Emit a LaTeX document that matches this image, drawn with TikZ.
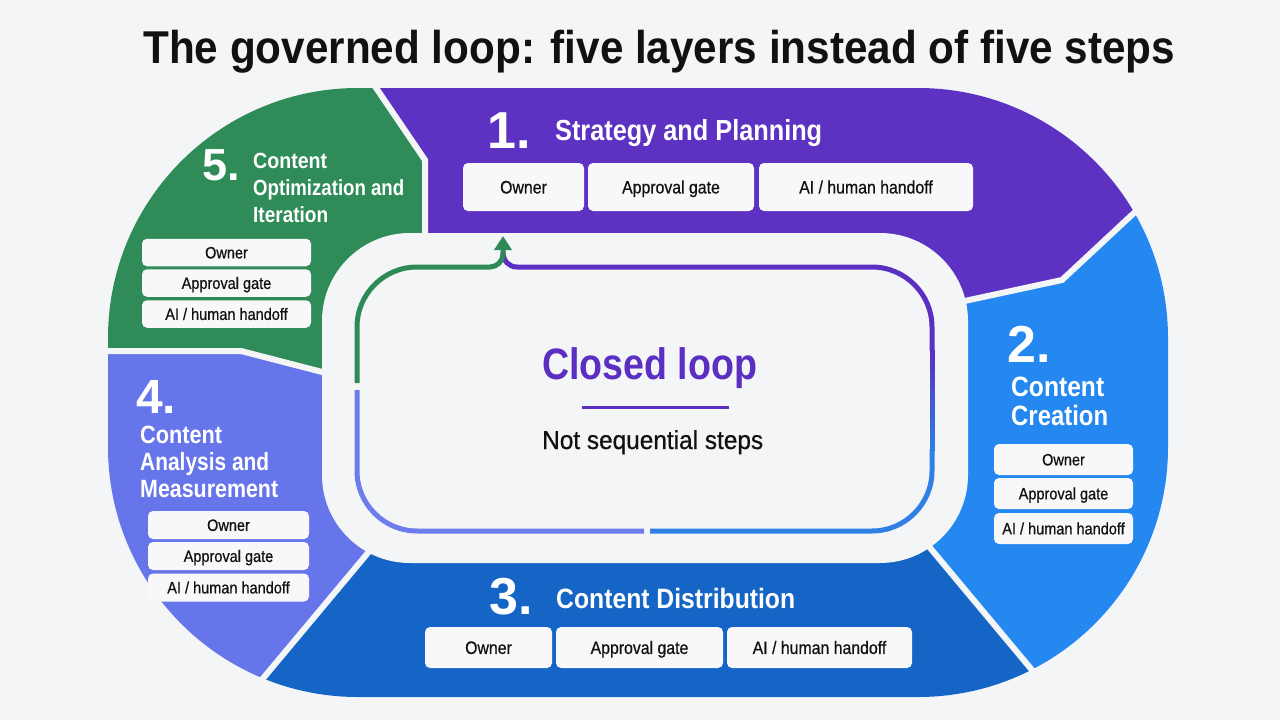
\documentclass[tikz,border=0pt]{standalone}
\usepackage{fontspec}
\setmainfont{Liberation Sans}
\newfontfamily\nar{Liberation Sans}[FakeStretch=0.88,FakeBold=0.6]
\usetikzlibrary{arrows.meta}
\definecolor{bg}{HTML}{F4F5F7}
\definecolor{txt}{HTML}{111111}
\definecolor{boxc}{HTML}{F8F8FA}
\definecolor{segone}{HTML}{5D32C2}
\definecolor{segtwo}{HTML}{2587F0}
\definecolor{segthree}{HTML}{1565C6}
\definecolor{segfour}{HTML}{6675EA}
\definecolor{segfive}{HTML}{2F8C58}
\definecolor{lgreen}{HTML}{2E8B57}
\definecolor{lpurple}{HTML}{5B2FC1}
\definecolor{lblue}{HTML}{2F7FE5}
\definecolor{llav}{HTML}{6E7BEB}
\newcommand\fw[3]{\resizebox{#1pt}{\height}{\fontsize{#2}{#2}\selectfont #3}}
\begin{document}
\begin{tikzpicture}[x=1pt,y=-1pt,
  hd/.style={text=white,font=\bfseries,anchor=base west,inner sep=0pt},
  num/.style={text=white,anchor=base west,inner sep=0pt},
  lbox/.style={fill=boxc,rounded corners=5pt,inner sep=0pt,text=txt,text depth=0pt},
  sepline/.style={draw=bg,line width=6pt},
  track/.style={line width=5pt}]
\fill[bg] (0,0) rectangle (1280,720);
\useasboundingbox (0,0) rectangle (1280,720);
\coordinate (C) at (645,400);
% segments
\begin{scope}
\clip (0,0)--(316,0)--(425,160)--(425,233)--(C)--(322,371)--(240,351)--(0,351)--cycle;
\fill[segfive, rounded corners=250pt] (108,88) rectangle (1168,697);
\end{scope}
\begin{scope}
\clip (316,0)--(1280,0)--(1280,77)--(1137,210)--(1062,280)--(968,300)--(C)--(425,233)--(425,160)--cycle;
\fill[segone, rounded corners=250pt] (108,88) rectangle (1168,697);
\end{scope}
\begin{scope}
\clip (1280,77)--(1280,720)--(1073,720)--(930,548)--(C)--(968,300)--(1062,280)--(1137,210)--cycle;
\fill[segtwo, rounded corners=250pt] (108,88) rectangle (1168,697);
\end{scope}
\begin{scope}
\clip (1073,720)--(229,720)--(368,553)--(C)--(930,548)--cycle;
\fill[segthree, rounded corners=250pt] (108,88) rectangle (1168,697);
\end{scope}
\begin{scope}
\clip (229,720)--(0,720)--(0,351)--(240,351)--(322,371)--(C)--(368,553)--cycle;
\fill[segfour, rounded corners=250pt] (108,88) rectangle (1168,697);
\end{scope}
% separators
\draw[sepline] (368,76)--(425,160)--(425,240);
\draw[sepline] (1150,198)--(1062,280)--(960,302);
\draw[sepline] (926,543)--(1047,688);
\draw[sepline] (372,548)--(250,694);
\draw[sepline] (100,351)--(241,351)--(330,374);
% hole
\fill[bg, rounded corners=88pt] (322,233) rectangle (968,563);
% loop track
\coordinate (gs) at (357,383);
\coordinate (tip) at (503,236);
\draw[track, lpurple] (503,252) .. controls (503,261) and (509,267) .. (517,267) -- (872,267) .. controls (905,267) and (932,294) .. (932,327) -- (932,351);
\foreach \i/\p in {0/5,1/15,2/25,3/35,4/45,5/55,6/65,7/75,8/85,9/95}
  \draw[track, color=lblue!\p!lpurple] (932,350+10*\i) -- (932,361+10*\i);
\draw[track, lblue] (932,449) -- (932,471) .. controls (932,504) and (905,531) .. (872,531) -- (650,531);
\draw[track, llav] (644,531) -- (417,531) .. controls (384,531) and (357,504) .. (357,471) -- (357,390);
\draw[track, lgreen, -{Triangle[width=17pt,length=14pt]}] (gs) -- (357,327) .. controls (357,294) and (384,267) .. (417,267) -- (490,267) .. controls (497,267) and (503,261) .. (503,254) -- (tip);
% title
\node[anchor=base west, inner sep=0pt, text=txt, font=\bfseries] (title) at (143,63) {\fw{1032}{46}{The governed loop: five layers instead of five steps}};
% centre
\node[anchor=base west, inner sep=0pt, text=lpurple, font=\bfseries] (closed) at (542,379) {\fw{215}{44}{Closed loop}};
\draw[lpurple, line width=3pt] (582,407) coordinate (ula) -- (729,407) coordinate (ulb);
\node[anchor=base west, inner sep=0pt, text=txt] (notseq) at (542,449) {\nar\fw{221}{26}{Not sequential steps}};
% segment 1
\node[num, font=\bfseries\fontsize{52}{52}\selectfont] (n1) at (487,148) {1.};
\node[hd] (h1) at (555,140) {\fw{267}{29}{Strategy and Planning}};
\begin{scope}[every node/.style={lbox, minimum height=48pt, text height=12.9pt, font=\nar\fontsize{18}{20}\selectfont}]
\node[minimum width=121pt] (b1a) at (523.5,187) {Owner};
\node[minimum width=166pt] (b1b) at (671,187) {Approval gate};
\node[minimum width=214pt] (b1c) at (866,187) {AI / human handoff};
\end{scope}
% segment 2
\node[num, font=\bfseries\fontsize{52}{52}\selectfont] (n2) at (1007,362) {2.};
\node[hd] (h2a) at (1011,396) {\fw{93}{28}{Content}};
\node[hd] (h2b) at (1011,425) {\fw{97}{28}{Creation}};
\begin{scope}[every node/.style={lbox, minimum width=139pt, minimum height=31pt, text height=11.8pt, font=\nar\fontsize{16.5}{18}\selectfont}]
\node (b2a) at (1063.5,459.5) {Owner};
\node (b2b) at (1063.5,493.5) {Approval gate};
\node (b2c) at (1063.5,528.5) {AI / human handoff};
\end{scope}
% segment 3
\node[num, font=\bfseries\fontsize{52}{52}\selectfont] (n3) at (489,614) {3.};
\node[hd] (h3) at (556,608) {\fw{239}{28}{Content Distribution}};
\begin{scope}[every node/.style={lbox, minimum height=41pt, text height=12.9pt, font=\nar\fontsize{18}{20}\selectfont}]
\node[minimum width=127pt] (b3a) at (488.5,647.5) {Owner};
\node[minimum width=167pt] (b3b) at (639.5,647.5) {Approval gate};
\node[minimum width=185pt] (b3c) at (819.5,647.5) {AI / human handoff};
\end{scope}
% segment 4
\node[num, font=\bfseries\fontsize{48}{48}\selectfont] (n4) at (136,413) {4.};
\node[hd] (h4a) at (140,443) {\fw{82}{25}{Content}};
\node[hd] (h4b) at (140,470) {\fw{129}{25}{Analysis and}};
\node[hd] (h4c) at (140,497) {\fw{138}{25}{Measurement}};
\begin{scope}[every node/.style={lbox, minimum width=161pt, minimum height=28pt, text height=11.8pt, font=\nar\fontsize{16.5}{18}\selectfont}]
\node (b4a) at (228.5,525) {Owner};
\node (b4b) at (228.5,556) {Approval gate};
\node (b4c) at (228.5,587.5) {AI / human handoff};
\end{scope}
% segment 5
\node[num, font=\bfseries\fontsize{45}{45}\selectfont] (n5) at (202,180) {5.};
\node[hd] (h5a) at (253,168) {\fw{74}{22}{Content}};
\node[hd] (h5b) at (253,195) {\fw{151}{22}{Optimization and}};
\node[hd] (h5c) at (253,222) {\fw{75}{22}{Iteration}};
\begin{scope}[every node/.style={lbox, minimum width=169pt, minimum height=27.5pt, text height=11.8pt, font=\nar\fontsize{16.5}{18}\selectfont}]
\node (b5a) at (226.5,252.5) {Owner};
\node (b5b) at (226.5,283) {Approval gate};
\node (b5c) at (226.5,314) {AI / human handoff};
\end{scope}
\end{tikzpicture}
\end{document}
